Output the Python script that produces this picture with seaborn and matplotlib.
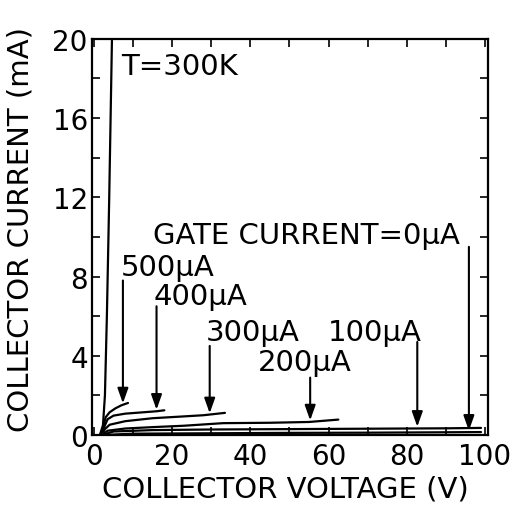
import numpy as np
import pandas as pd
import seaborn as sns
import matplotlib.pyplot as plt
from matplotlib.ticker import MultipleLocator

# collector voltage (V) / collector current (mA)
v_breakdown = [1.5, 2.3, 2.8, 3.3, 3.9, 4.6]
i_breakdown = [0.0, 0.5, 2.0, 6.0, 12.0, 20.0]

v_500 = [2.0, 2.4, 3.0, 4.0, 5.5, 7.0, 8.7]
i_500 = [0.0, 0.45, 0.9, 1.15, 1.35, 1.5, 1.62]

v_400 = [2.0, 2.6, 3.5, 5.0, 8.0, 12.0, 16.0, 18.0]
i_400 = [0.0, 0.4, 0.8, 0.98, 1.08, 1.14, 1.2, 1.25]

v_300 = [2.0, 2.8, 4.0, 8.0, 15.0, 22.0, 28.0, 33.5]
i_300 = [0.0, 0.3, 0.52, 0.7, 0.85, 0.93, 1.0, 1.12]

v_200 = [2.0, 3.5, 8.0, 15.0, 23.0, 33.0, 45.0, 55.0, 62.5]
i_200 = [0.0, 0.22, 0.33, 0.4, 0.47, 0.6, 0.62, 0.66, 0.78]

v_100 = [2.0, 5.0, 15.0, 30.0, 50.0, 70.0, 90.0, 99.0]
i_100 = [0.0, 0.18, 0.25, 0.28, 0.3, 0.32, 0.34, 0.36]

v_0 = [2.0, 10.0, 30.0, 50.0, 70.0, 90.0, 99.0]
i_0 = [0.0, 0.07, 0.09, 0.11, 0.12, 0.14, 0.15]

curves = [(v_breakdown, i_breakdown), (v_500, i_500), (v_400, i_400),
          (v_300, i_300), (v_200, i_200), (v_100, i_100), (v_0, i_0)]

# gate current labels: text, text centre (V, mA), arrow x, arrow start, arrow tip
labels = ['500µA', '400µA', '300µA', '200µA', '100µA', 'GATE CURRENT=0µA']
label_x = [18.8, 27.2, 40.5, 53.8, 71.8, 54.3]
label_y = [8.5, 7.0, 5.2, 3.7, 5.2, 10.1]
arrow_x = [7.4, 16.0, 29.6, 55.3, 82.7, 95.9]
arrow_top = [7.8, 6.5, 4.5, 2.9, 4.7, 9.5]
arrow_tip = [1.6, 1.28, 1.1, 0.74, 0.42, 0.22]

sns.set_theme(style='ticks')
plt.rcParams['font.family'] = ['DejaVu Sans']
plt.rcParams['text.color'] = 'black'
plt.rcParams['xtick.labelcolor'] = 'black'
plt.rcParams['ytick.labelcolor'] = 'black'

fig = plt.figure(figsize=(5.17, 5.10), dpi=100)
ax = fig.add_axes([0.178, 0.145, 0.766, 0.777])

for v, i in curves:
    df = pd.DataFrame({'V': v, 'I': i})
    sns.lineplot(data=df, x='V', y='I', ax=ax, color='black', lw=1.6,
                 sort=False, estimator=None)

for txt, tx, ty, ax_x, a0, a1 in zip(labels, label_x, label_y, arrow_x, arrow_top, arrow_tip):
    ax.text(tx, ty, txt, fontsize=21, ha='center', va='center', color='black')
    ax.annotate('', xy=(ax_x, a1), xytext=(ax_x, a0),
                arrowprops=dict(arrowstyle='-|>,head_length=0.45,head_width=0.16',
                                mutation_scale=20, color='black', lw=1.5,
                                shrinkA=0, shrinkB=0))

ax.text(7.0, 18.65, 'T=300K', fontsize=21, ha='left', va='center', color='black')

ax.set_xlim(-0.5, 100.8)
ax.set_ylim(0, 20)
ax.xaxis.set_major_locator(MultipleLocator(20))
ax.xaxis.set_minor_locator(MultipleLocator(10))
ax.yaxis.set_major_locator(MultipleLocator(4))
ax.yaxis.set_minor_locator(MultipleLocator(2))
ax.tick_params(which='both', direction='in', top=True, right=True,
               length=6, width=1.2, color='black', labelcolor='black')
ax.tick_params(axis='x', labelsize=20, pad=5)
ax.tick_params(axis='y', labelsize=20, pad=3)
for s in ax.spines.values():
    s.set_linewidth(1.6)
    s.set_color('black')

ax.set_xlabel('COLLECTOR VOLTAGE (V)', fontsize=21, color='black',
              ha='center', va='center')
ax.set_ylabel('COLLECTOR CURRENT (mA)', fontsize=21, color='black',
              ha='center', va='center')
ax.xaxis.set_label_coords(0.487, -0.136)
ax.yaxis.set_label_coords(-0.18, 0.52)

fig.savefig('out.png', dpi=100, facecolor='white')
